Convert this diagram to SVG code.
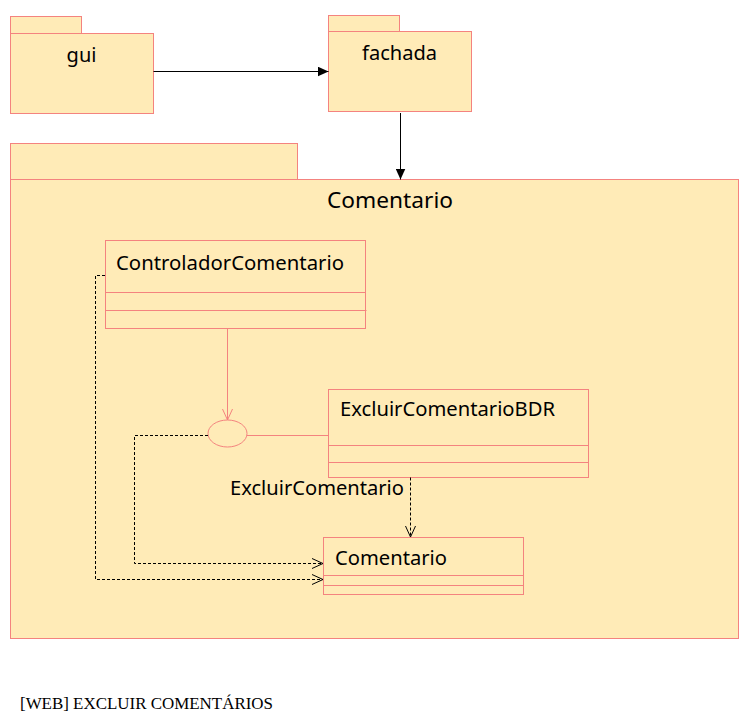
<svg xmlns="http://www.w3.org/2000/svg" width="752" height="724" viewBox="0 0 752 724">
<style>
.pk{fill:#FFEBB7;stroke:#F4837F;stroke-width:1}
.cl{fill:#FFEBB7;stroke:#F4837F;stroke-width:1}
.dv{stroke:#F4837F;stroke-width:1}
.t{font-family:"Noto Sans","Open Sans",sans-serif;fill:#000}
.ln{fill:none;stroke:#000;stroke-width:1}
.ds{fill:none;stroke:#000;stroke-width:1;stroke-dasharray:3,2}
.rl{fill:none;stroke:#F4837F;stroke-width:1}
</style>
<defs>
<marker id="fa" markerWidth="12" markerHeight="10" refX="11" refY="5" orient="auto" markerUnits="userSpaceOnUse"><path d="M0,0 L11,5 L0,10 z" fill="#000"/></marker>
<marker id="oa" markerWidth="12" markerHeight="12" refX="11" refY="6" orient="auto" markerUnits="userSpaceOnUse"><path d="M0,1 L11,6 L0,11" fill="none" stroke="#000" stroke-width="1"/></marker>
<marker id="ra" markerWidth="12" markerHeight="12" refX="11" refY="6" orient="auto" markerUnits="userSpaceOnUse"><path d="M0,1 L11,6 L0,11" fill="none" stroke="#F4837F" stroke-width="1"/></marker>
</defs>
<rect width="752" height="724" fill="#fff"/>
<g id="gui">
<rect class="pk" x="10.5" y="16.5" width="71" height="17"/>
<rect class="pk" x="10.5" y="33.5" width="143" height="80"/>
<text class="t" x="81.5" y="62" font-size="20" text-anchor="middle">gui</text>
</g>
<g id="fachada">
<rect class="pk" x="328.5" y="15.5" width="71" height="16"/>
<rect class="pk" x="328.5" y="31.5" width="143" height="80"/>
<text class="t" x="399.5" y="60" font-size="20" text-anchor="middle" textLength="75" lengthAdjust="spacingAndGlyphs">fachada</text>
</g>
<g id="pkgComentario">
<rect class="pk" x="10.5" y="143.5" width="287" height="36"/>
<rect class="pk" x="10.5" y="179.5" width="728" height="459"/>
<text class="t" x="327" y="208" font-size="22" textLength="126" lengthAdjust="spacingAndGlyphs">Comentario</text>
</g>
<g id="ControladorComentario">
<rect class="cl" x="105.5" y="240.5" width="260" height="88"/>
<line class="dv" x1="105.5" y1="292.5" x2="365.5" y2="292.5"/>
<line class="dv" x1="105.5" y1="310.5" x2="366.5" y2="310.5"/>
<text class="t" x="116" y="270" font-size="20" textLength="228" lengthAdjust="spacingAndGlyphs">ControladorComentario</text>
</g>
<g id="ExcluirComentarioBDR">
<rect class="cl" x="328.5" y="389.5" width="260" height="88"/>
<line class="dv" x1="328.5" y1="445.5" x2="588.5" y2="445.5"/>
<line class="dv" x1="328.5" y1="462.5" x2="588.5" y2="462.5"/>
<text class="t" x="340" y="416" font-size="20" textLength="215" lengthAdjust="spacingAndGlyphs">ExcluirComentarioBDR</text>
</g>
<g id="ComentarioClass">
<rect class="cl" x="323.5" y="537.5" width="200" height="57"/>
<line class="dv" x1="323.5" y1="575.5" x2="523.5" y2="575.5"/>
<line class="dv" x1="323.5" y1="585.5" x2="523.5" y2="585.5"/>
<text class="t" x="335" y="565" font-size="20" textLength="112" lengthAdjust="spacingAndGlyphs">Comentario</text>
</g>
<g id="ExcluirComentario">
<ellipse class="cl" cx="227.5" cy="433.5" rx="19.5" ry="13.5"/>
<text class="t" x="230" y="495" font-size="20" textLength="174" lengthAdjust="spacingAndGlyphs">ExcluirComentario</text>
</g>
<g id="connectors">
<line class="ln" x1="153.5" y1="71.5" x2="328.5" y2="71.5" marker-end="url(#fa)"/>
<line class="ln" x1="400.5" y1="113" x2="400.5" y2="179.5" marker-end="url(#fa)"/>
<line class="rl" x1="227.5" y1="328.5" x2="227.5" y2="420" marker-end="url(#ra)"/>
<line class="rl" x1="247" y1="435.5" x2="328.5" y2="435.5"/>
<line class="ds" x1="410.5" y1="477.5" x2="410.5" y2="537" marker-end="url(#oa)"/>
<polyline class="ds" points="208,435.5 134.5,435.5 134.5,563.5 323,563.5" marker-end="url(#oa)"/>
<polyline class="ds" points="105,275.5 95.5,275.5 95.5,579.5 323,579.5" marker-end="url(#oa)"/>
</g>
<text x="20" y="709" font-family="Liberation Serif,serif" font-size="17" fill="#000" textLength="253" lengthAdjust="spacingAndGlyphs">[WEB] EXCLUIR COMENTÁRIOS</text>
</svg>
